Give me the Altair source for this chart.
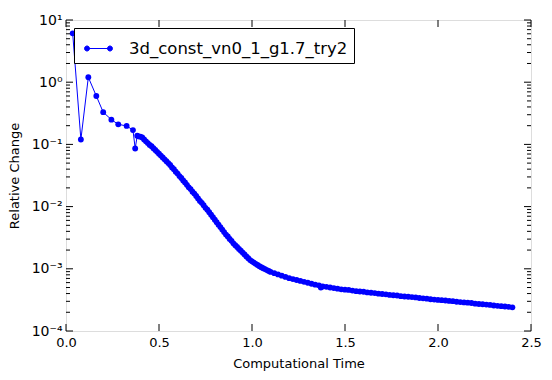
import altair as alt
import pandas as pd

# ---- data ----
series_name = "3d_const_vn0_1_g1.7_try2"

t_early = [0.036, 0.08, 0.12, 0.163, 0.20, 0.244, 0.281, 0.326, 0.36, 0.372, 0.383]
v_early = [6.1, 0.12, 1.2, 0.60, 0.33, 0.25, 0.21, 0.198, 0.17, 0.086, 0.138]

t_steep = [round(0.39 + 0.01 * i, 2) for i in range(72)]  # 0.39 .. 1.10
v_steep = [
    0.135, 0.133, 0.129, 0.120, 0.112, 0.105, 0.0977, 0.0933, 0.0871, 0.0813,
    0.0759, 0.0708, 0.0661, 0.0617, 0.0575, 0.0537, 0.0501, 0.0468, 0.0427, 0.0398,
    0.0363, 0.0339, 0.0309, 0.0288, 0.0263, 0.0245, 0.0224, 0.0204, 0.0191, 0.0174,
    0.0162, 0.0148, 0.0135, 0.0123, 0.0115, 0.0105, 0.00955, 0.00891, 0.00813, 0.00741,
    0.00676, 0.00617, 0.00562, 0.00513, 0.00468, 0.00427, 0.00389, 0.00355, 0.00331, 0.00302,
    0.00282, 0.00257, 0.00240, 0.00224, 0.00209, 0.00195, 0.00182, 0.00170, 0.00158, 0.00148,
    0.00138, 0.00132, 0.00126, 0.00120, 0.00115, 0.00110, 0.00106, 0.00102, 0.000989, 0.000955,
    0.000923, 0.000891,
]

t_tail = [1.12, 1.14, 1.16, 1.18, 1.20, 1.22, 1.24, 1.26, 1.28, 1.30, 1.32, 1.34, 1.36, 1.37, 1.38,
          1.40, 1.42, 1.44, 1.46, 1.48, 1.50, 1.52, 1.54, 1.56, 1.58, 1.60, 1.62, 1.64, 1.66, 1.68,
          1.70, 1.72, 1.74, 1.76, 1.78, 1.80, 1.82, 1.84, 1.86, 1.88, 1.90, 1.92, 1.94, 1.96, 1.98,
          2.00, 2.02, 2.04, 2.06, 2.08, 2.10, 2.12, 2.14, 2.16, 2.18, 2.20, 2.22, 2.24, 2.26, 2.28,
          2.30, 2.32, 2.34, 2.36, 2.38, 2.40]
v_tail = [0.000851, 0.000813, 0.000776, 0.000741, 0.000708, 0.000684, 0.000661, 0.000638, 0.000617,
          0.000596, 0.000575, 0.000556, 0.000543, 0.000501, 0.000519,
          0.000513, 0.000501, 0.000490, 0.000479, 0.000468, 0.000462, 0.000457, 0.000447, 0.000437,
          0.000432, 0.000427, 0.000417, 0.000412, 0.000407, 0.000398,
          0.000394, 0.000389, 0.000380, 0.000376, 0.000372, 0.000363, 0.000359, 0.000355, 0.000351,
          0.000347, 0.000339, 0.000335, 0.000331, 0.000324, 0.000320,
          0.000316, 0.000313, 0.000309, 0.000305, 0.000302, 0.000295, 0.000292, 0.000288, 0.000285,
          0.000282, 0.000275, 0.000272, 0.000269, 0.000266, 0.000263,
          0.000257, 0.000254, 0.000251, 0.000248, 0.000245, 0.000240]

x_ticks = [0.0, 0.5, 1.0, 1.5, 2.0, 2.5]
y_major = [1e-4, 1e-3, 1e-2, 1e-1, 1.0, 10.0]
y_minor = [k * 10.0 ** e for e in range(-4, 1) for k in range(2, 10)]

# ---- tables ----
df = pd.DataFrame({
    "t": t_early + t_steep + t_tail,
    "v": v_early + v_steep + v_tail,
})
df["series"] = series_name

W, H = 465, 311
FONT = "DejaVu Sans"
BLUE = "#0000ff"

xs = alt.Scale(domain=[0, 2.5], nice=False, zero=False)
ys = alt.Scale(type="log", domain=[1e-4, 10], nice=False)

label_expr = ("datum.value >= 9 ? '10¹' : datum.value >= 0.9 ? '10⁰' : "
              "datum.value >= 0.09 ? '10⁻¹' : datum.value >= 0.009 ? '10⁻²' : "
              "datum.value >= 0.0009 ? '10⁻³' : '10⁻⁴'")

x_axis = alt.Axis(
    values=x_ticks, format=".1f", tickSize=0, domain=False, grid=False,
    labelFont=FONT, labelFontSize=13, labelColor="black", labelPadding=5,
    labelFlush=False, labelOverlap=False,
    title="Computational Time", titleFont=FONT, titleFontSize=13,
    titleFontWeight="normal", titleColor="black", titlePadding=8)
y_axis = alt.Axis(
    values=y_major, labelExpr=label_expr, tickSize=0, domain=False, grid=False,
    labelFont=FONT, labelFontSize=14, labelColor="black", labelPadding=4,
    labelFlush=False, labelOverlap=False,
    title="Relative Change", titleFont=FONT, titleFontSize=13,
    titleFontWeight="normal", titleColor="black", titlePadding=10)

r = 0.18
circ = lambda cx: (f"M{cx - r},0 a{r},{r} 0 1,0 {2 * r},0 a{r},{r} 0 1,0 {-2 * r},0 ")
legend_path = f"M-0.82,0 L0.82,0 " + circ(-0.82) + circ(0.82)

main = alt.Chart(df).mark_line(
    strokeWidth=1,
    point=alt.OverlayMarkDef(filled=True, size=34, color=BLUE),
).encode(
    x=alt.X("t:Q", scale=xs, axis=x_axis),
    y=alt.Y("v:Q", scale=ys, axis=y_axis),
    color=alt.Color("series:N", scale=alt.Scale(range=[BLUE]), legend=alt.Legend(
        title=None, orient="none", legendX=8, legendY=8,
        labelFont=FONT, labelFontSize=16.5, labelColor="black", labelOffset=16,
        labelLimit=0,
        strokeColor="black", fillColor="white", padding=6, cornerRadius=0,
        symbolType=legend_path, symbolSize=784, symbolStrokeWidth=1,
        symbolFillColor=BLUE, symbolStrokeColor=BLUE, symbolOffset=4)),
)

xt = pd.DataFrame({"t": x_ticks})
ymj = pd.DataFrame({"v": y_major})
ymn = pd.DataFrame({"v": y_minor})

def xrule(y1, y2):
    return alt.Chart(xt).mark_rule(color="black", strokeWidth=1).encode(
        x=alt.X("t:Q", scale=xs, axis=x_axis), y=alt.value(y1), y2=alt.value(y2))

def yrule(data, x1, x2):
    return alt.Chart(data).mark_rule(color="black", strokeWidth=1).encode(
        y=alt.Y("v:Q", scale=ys, axis=y_axis), x=alt.value(x1), x2=alt.value(x2))

chart = alt.layer(
    main,
    xrule(H, H - 7), xrule(0, 7),
    yrule(ymj, 0, 7), yrule(ymj, W, W - 7),
    yrule(ymn, 0, 4), yrule(ymn, W, W - 4),
).properties(
    width=W, height=H,
    autosize=alt.AutoSizeParams(type="none"),
    padding={"left": 58, "top": 12, "right": 13, "bottom": 41},
).configure_view(stroke="black", strokeWidth=1).configure(background="white")

chart.save("out.html", embed_options={"renderer": "svg", "actions": False})
